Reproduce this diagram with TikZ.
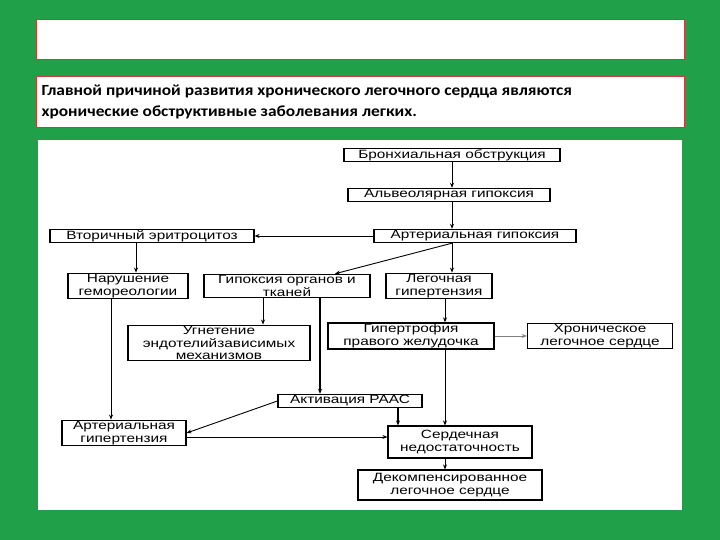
\documentclass[tikz,border=0pt]{standalone}
\usepackage{fontspec}
\setmainfont{Liberation Sans}
\newfontfamily\hdrfont[FakeStretch=1.12]{Carlito}
\newfontfamily\bxfont[FakeStretch=1.28]{Liberation Sans}
\usetikzlibrary{arrows.meta}
\definecolor{bggreen}{RGB}{32,160,72}
\definecolor{redb}{RGB}{200,60,60}
\tikzset{
  bx/.style={draw=black,line width=1.2pt,fill=white,inner sep=1.2pt,align=center,font=\bxfont\fontsize{12}{12.5}\selectfont},
  ar/.style={-{Stealth[length=5pt,width=4pt]},line width=0.9pt},
}
\begin{document}
\begin{tikzpicture}[x=1pt,y=-1pt]
\fill[bggreen] (0,0) rectangle (720,540);
\useasboundingbox (0,0) rectangle (720,540);
\draw[redb,fill=white,line width=1pt] (36,20) rectangle (684,60);
\draw[redb,fill=white,line width=1pt] (36,77) rectangle (684,128);
\node[anchor=west,font=\hdrfont\bfseries\fontsize{15.5}{21}\selectfont,align=left] (hdr) at (38,102) {Главной причиной развития хронического легочного сердца являются\\хронические обструктивные заболевания легких.};
\fill[white] (38,140) rectangle (682,510);
\node[bx,minimum width=216pt] (b1) at (452,155) {Бронхиальная обструкция};
\node[bx,minimum width=202pt] (b2) at (449,195) {Альвеолярная гипоксия};
\node[bx,minimum width=202pt] (b3) at (475,236) {Артериальная гипоксия};
\node[bx,minimum width=204pt] (b4) at (152,236) {Вторичный эритроцитоз};
\node[bx,minimum width=120pt] (b5) at (128,286) {Нарушение\\гемореологии};
\node[bx,minimum width=166pt] (b6) at (287,286) {Гипоксия органов и\\тканей};
\node[bx,minimum width=106pt] (b7) at (439,286) {Легочная\\гипертензия};
\node[bx,minimum width=182pt] (b8) at (219,343) {Угнетение\\эндотелийзависимых\\механизмов};
\node[bx,minimum width=166pt] (b9) at (411,336) {Гипертрофия\\правого желудочка};
\node[bx,minimum width=145pt] (b10) at (600,336) {Хроническое\\легочное сердце};
\node[bx,minimum width=144pt] (b11) at (350,401) {Активация РААС};
\node[bx,minimum width=124pt] (b12) at (124,433) {Артериальная\\гипертензия};
\node[bx,minimum width=144pt,minimum height=32pt] (b13) at (460,442) {Сердечная\\недостаточность};
\node[bx,minimum width=184pt,minimum height=30pt] (b14) at (450,485) {Декомпенсированное\\легочное сердце};
\draw[ar] (b1.south -| 452,0) -- (b2.north -| 452,0);
\draw[ar] (b2.south -| 452,0) -- (b3.north -| 452,0);
\draw[ar] (b3.west) -- (b4.east);
\draw[ar] (b3.south -| 452,0) -- (b6.north -| 335,0);
\draw[ar] (b3.south -| 452,0) -- (b7.north -| 452,0);
\draw[ar] (b4.south -| 136,0) -- (b5.north -| 136,0);
\draw[ar] (b5.south -| 111,0) -- (b12.north -| 111,0);
\draw[ar] (b6.south -| 263,0) -- (b8.north -| 263,0);
\draw[ar,line width=1.5pt] (b6.south -| 320,0) -- (b11.north -| 320,0);
\draw[ar] (b7.south -| 445,0) -- (b9.north -| 445,0);
\draw[ar,gray] (b9.east) -- (b10.west);
\draw[ar] (b9.south -| 445,0) -- (b13.north -| 445,0);
\draw[ar] (b11.west) -- (b12.east);
\draw[ar,line width=1.5pt] (b11.south -| 398,0) -- (b13.north -| 398,0);
\draw[ar] (b12.east |- 0,437) -- (b13.west |- 0,437);
\draw[ar] (b13.south -| 445,0) -- (b14.north -| 445,0);
\end{tikzpicture}
\end{document}
